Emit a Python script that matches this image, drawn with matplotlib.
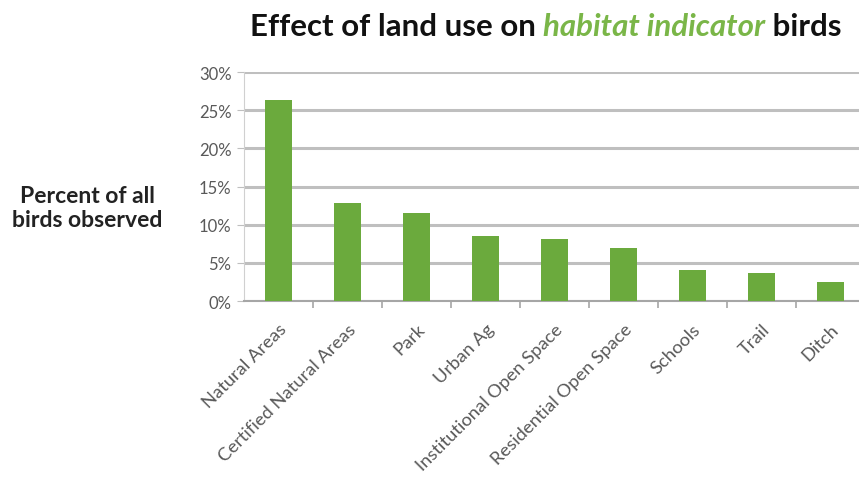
import matplotlib.pyplot as plt
import numpy as np
from matplotlib.ticker import PercentFormatter, FixedLocator

plt.rcParams['font.family'] = ['Lato', 'DejaVu Sans']

categories = ["Natural Areas", "Certified Natural Areas", "Park", "Urban Ag",
              "Institutional Open Space", "Residential Open Space", "Schools",
              "Trail", "Ditch"]
percent_birds = [26.3, 12.8, 11.6, 8.5, 8.1, 7.0, 4.1, 3.7, 2.5]

green = '#6BAA3D'
grid_gray = '#BFBFBF'
label_gray = '#595959'

fig = plt.figure(figsize=(8.59, 4.81), dpi=100)
ax = fig.add_axes([0.284, 0.372, 0.723, 0.476])

x = np.arange(len(categories))
ax.bar(x, percent_birds, width=0.4, color=green, zorder=3)

ax.set_xlim(-0.5, len(categories) - 0.5)
ax.set_ylim(0, 30)
ax.set_yticks(range(0, 31, 5))
ax.yaxis.set_major_formatter(PercentFormatter(decimals=0))
ax.grid(axis='y', color=grid_gray, linewidth=2.2, zorder=0)

ax.set_xticks(x)
ax.set_xticklabels(categories, rotation=45, ha='right', rotation_mode='anchor',
                   fontsize=13.2, color=label_gray)
ax.xaxis.set_minor_locator(FixedLocator(x[:-1] + 0.5))
ax.tick_params(axis='x', which='major', length=0, pad=14)
ax.tick_params(axis='x', which='minor', length=5, color='#A6A6A6', width=1.2)
ax.tick_params(axis='y', length=5, color='#BFBFBF', labelsize=12,
               labelcolor=label_gray, pad=4)

for side in ['top', 'right']:
    ax.spines[side].set_visible(False)
ax.spines['left'].set_color('#D0D0D0')
ax.spines['bottom'].set_color('#A6A6A6')
ax.spines['bottom'].set_linewidth(1.5)

# title in three pieces so the middle can be green italic
title_size = 22.5
t1 = fig.text(0.291, 0.944, "Effect of land use on ", fontsize=title_size,
              fontweight='bold', color='#111111', va='center', ha='left')
t2 = ax.annotate("habitat indicator", xy=(1, 0), xycoords=t1,
                 fontsize=title_size, fontweight='bold', fontstyle='italic',
                 color='#7AB648', va='bottom', ha='left',
                 annotation_clip=False)
ax.annotate(" birds", xy=(1, 0), xycoords=t2, fontsize=title_size,
            fontweight='bold', color='#111111', va='bottom', ha='left',
            annotation_clip=False)

fig.text(0.102, 0.567, "Percent of all\nbirds observed", fontsize=16.5,
         fontweight='bold', color='#222222', ha='center', va='center',
         linespacing=1.2)

fig.savefig("out.png", dpi=100, facecolor='w')
